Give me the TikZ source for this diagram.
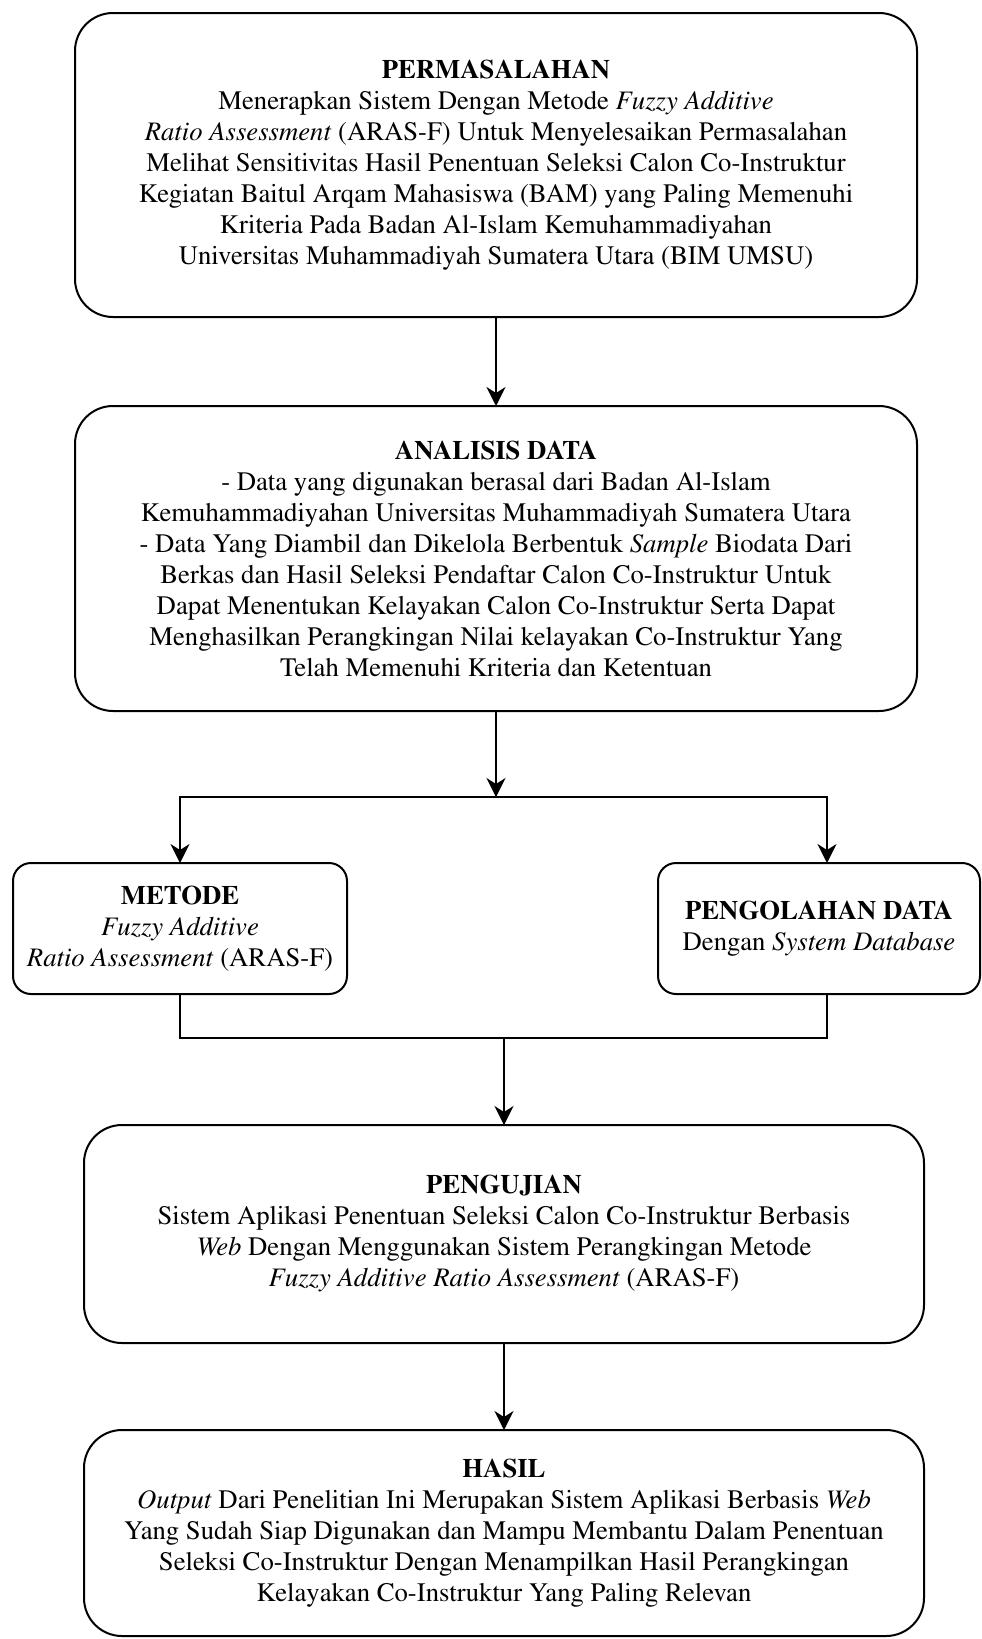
\documentclass[tikz,border=0pt]{standalone}
\usepackage[T1]{fontenc}
\renewcommand{\rmdefault}{ptm}
\usetikzlibrary{arrows.meta}
\begin{document}
\begin{tikzpicture}[x=1pt,y=-1pt,
  box/.style={draw=black, line width=2pt, rounded corners=38pt, align=center,
    inner sep=0pt, outer sep=0pt, font=\fontsize{26.7}{31}\selectfont},
  smallbox/.style={box, rounded corners=18pt},
  link/.style={draw=black, line width=1.8pt},
  arr/.style={link, -{Stealth[length=19pt,width=19pt,inset=6pt]}}]
\useasboundingbox (0,0) rectangle (982,1639);

% main flow boxes
\node[box, minimum width=842pt, minimum height=304pt] (p1) at (496,165) {%
  \textbf{PERMASALAHAN}\\
  Menerapkan Sistem Dengan Metode \textit{Fuzzy Additive}\\
  \textit{Ratio Assessment} (ARAS-F) Untuk Menyelesaikan Permasalahan\\
  Melihat Sensitivitas Hasil Penentuan Seleksi Calon Co-Instruktur\\
  Kegiatan Baitul Arqam Mahasiswa (BAM) yang Paling Memenuhi\\
  Kriteria Pada Badan Al-Islam Kemuhammadiyahan\\
  Universitas Muhammadiyah Sumatera Utara (BIM UMSU)};

\node[box, minimum width=842pt, minimum height=305pt] (p2) at (496,558.5) {%
  \textbf{ANALISIS DATA}\\
  - Data yang digunakan berasal dari Badan Al-Islam\\
  Kemuhammadiyahan Universitas Muhammadiyah Sumatera Utara\\
  - Data Yang Diambil dan Dikelola Berbentuk \textit{Sample} Biodata Dari\\
  Berkas dan Hasil Seleksi Pendaftar Calon Co-Instruktur Untuk\\
  Dapat Menentukan Kelayakan Calon Co-Instruktur Serta Dapat\\
  Menghasilkan Perangkingan Nilai kelayakan Co-Instruktur Yang\\
  Telah Memenuhi Kriteria dan Ketentuan};

% the two parallel branches
\node[smallbox, minimum width=334pt, minimum height=131pt] (mt) at (180,928.5) {%
  \textbf{METODE}\\
  \textit{Fuzzy Additive}\\
  \textit{Ratio Assessment} (ARAS-F)};

\node[smallbox, minimum width=322pt, minimum height=131pt] (pg) at (819,928.5) {%
  \textbf{PENGOLAHAN DATA}\\
  Dengan \textit{System Database}};

\node[box, minimum width=840pt, minimum height=218pt] (pu) at (504,1234) {%
  \textbf{PENGUJIAN}\\
  Sistem Aplikasi Penentuan Seleksi Calon Co-Instruktur Berbasis\\
  \textit{Web} Dengan Menggunakan Sistem Perangkingan Metode\\
  \textit{Fuzzy Additive Ratio Assessment} (ARAS-F)};

\node[box, minimum width=840pt, minimum height=206pt] (hs) at (504,1533) {%
  \textbf{HASIL}\\
  \textit{Output} Dari Penelitian Ini Merupakan Sistem Aplikasi Berbasis \textit{Web}\\
  Yang Sudah Siap Digunakan dan Mampu Membantu Dalam Penentuan\\
  Seleksi Co-Instruktur Dengan Menampilkan Hasil Perangkingan\\
  Kelayakan Co-Instruktur Yang Paling Relevan};

% split and merge points
\coordinate (br) at (496,797);
\coordinate (jn) at (504,1038);

% connectors
\draw[arr] (p1.south) -- (p2.north);
\draw[arr] (p2.south) -- (br);
\draw[arr] (br) -| (mt.north);
\draw[arr] (br) -| ([xshift=8pt]pg.north);
\draw[link] (mt.south) |- (jn) -| ([xshift=8pt]pg.south);
\draw[arr] (jn) -- (pu.north);
\draw[arr] (pu.south) -- (hs.north);
\end{tikzpicture}
\end{document}
